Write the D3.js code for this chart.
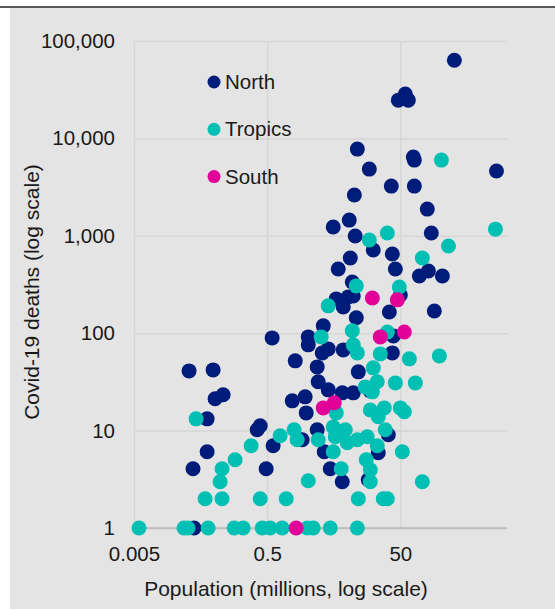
<!DOCTYPE html>
<html>
<head>
<meta charset="utf-8">
<script src="https://cdn.jsdelivr.net/npm/d3@7"></script>
<style>
  html, body { margin: 0; padding: 0; background: #ffffff; }
  svg { display: block; }
  text { font-family: "Liberation Sans", Arial, sans-serif; fill: #1a1a1a; }
</style>
</head>
<body>
<script>
// Population (millions) and Covid-19 deaths by region
const northPop = [324, 46.7, 59.4, 65.9, 11.3, 17.1, 78.4, 81.2, 1390, 36.6, 81.2, 10.2, 127, 8.55, 4.91, 10.5, 146, 19.6, 8.86, 37.9,
  5.84, 42.1, 96.5, 132, 214, 9.49, 5.45, 8.26, 6.95, 9.82, 50.0, 34.2, 162, 10.9, 3.48, 39.3, 2.07, 2.07, 0.594, 3.36,
  4.13, 6.95, 37.9, 1.32, 2.82, 11.7, 2.92, 4.13, 6.71, 9.82, 17.7, 1.86, 1.19, 1.93, 0.0336, 0.0771, 0.0826, 0.109, 0.0627, 0.354,
  0.393, 0.0627, 0.0385, 0.615, 0.483, 1.68, 2.82, 3.60, 33.0, 4.43, 23.3, 6.71, 16.5, 0.0399];
const northDeaths = [63500, 24700, 28500, 24700, 7770, 4840, 6430, 5990, 4620, 3240, 3240, 2620, 1880, 1450, 1230, 995, 1070, 715, 592, 651,
  456, 456, 387, 435, 387, 336, 225, 236, 186, 241, 247, 165, 169, 144, 119, 93.8, 91.6, 75.9, 89.5, 62.8,
  69.0, 67.4, 62.8, 52.0, 45.1, 40.1, 31.7, 26.2, 24.4, 24.4, 25.6, 22.2, 20.2, 15.2, 41.0, 42.0, 21.2, 23.3, 13.2, 10.2,
  11.2, 6.06, 4.06, 6.98, 4.06, 8.05, 10.2, 6.06, 9.06, 4.06, 5.92, 2.98, 3.13, 1];

const tropicsPop = [207, 1340, 31.9, 17.1, 264, 107, 10.9, 48.3, 4.13, 9.49, 31.9, 3.24, 9.82, 11.3, 25.0, 68.3, 193, 19.6, 22.5, 14.9,
  19.0, 42.1, 84.1, 5.45, 17.7, 28.7, 23.3, 50.0, 57.4, 4.91, 7.45, 5.27, 7.98, 11.3, 15.9, 22.5, 29.7, 2.92, 1.27, 1.41,
  0.783, 0.287, 0.165, 0.105, 0.0982, 0.0428, 0.0585, 0.105, 0.393, 0.966, 2.07, 4.91, 6.48, 15.4, 17.7, 17.7, 53.6, 107, 11.7, 27.7,
  31.9, 0.00594, 0.0282, 0.0324, 0.0649, 0.160, 0.218, 0.421, 0.555, 0.841, 2.0, 2.46, 4.43, 11.3];
const tropicsDeaths = [5990, 1170, 1070, 906, 786, 592, 306, 298, 191, 106, 103, 91.6, 75.9, 62.8, 61.3, 54.5, 58.5, 44.1, 31.7, 28.1,
  25.0, 30.9, 30.9, 15.2, 16.3, 17.1, 13.9, 17.1, 15.6, 10.9, 10.2, 8.64, 7.50, 8.05, 8.64, 6.98, 10.2, 8.05, 10.2, 8.05,
  8.85, 6.98, 5.02, 4.06, 2.98, 13.2, 2, 2, 2, 2, 3.06, 6.06, 4.06, 5.02, 3.96, 2.98, 6.06, 2.98, 2, 2,
  2, 1, 1, 1, 1, 1, 1, 1, 1, 1, 1, 1, 1, 1];

const southPop = [19.0, 45.1, 25.0, 57.4, 3.48, 5.09, 1.36];
const southDeaths = [230, 220, 91.6, 103, 17.1, 19.3, 1];

const regionNames = ["North", "Tropics", "South"];
const regionColors = ["#001c7a", "#00c0b4", "#e10098"];

const xTickValues = [0.005, 0.5, 50];
const xTickLabels = ["0.005", "0.5", "50"];
const yTickValues = [1, 10, 100, 1000, 10000, 100000];
const yTickLabels = ["1", "10", "100", "1,000", "10,000", "100,000"];

const W = 555, H = 609;
const margin = { left: 134, right: 48, top: 41, bottom: 81 };
const plotW = W - margin.left - margin.right;
const plotH = H - margin.top - margin.bottom;

const svg = d3.select("body").append("svg").attr("width", W).attr("height", H);

// panel background and top rule
svg.append("rect").attr("x", 10).attr("y", 8).attr("width", W - 10).attr("height", H - 8).attr("fill", "#e4e4e4");
svg.append("line").attr("x1", 0).attr("x2", W).attr("y1", 7).attr("y2", 7).attr("stroke", "#1f1f1f").attr("stroke-width", 1.5);

const x = d3.scaleLog().domain([0.005, 2000]).range([0, plotW]);
const y = d3.scaleLog().domain([1, 100000]).range([plotH, 0]);

const g = svg.append("g").attr("transform", `translate(${margin.left},${margin.top})`);

// horizontal gridlines + y labels
const yAxis = g.append("g")
  .call(d3.axisLeft(y).tickValues(yTickValues).tickSize(-plotW).tickPadding(19)
    .tickFormat((d, i) => yTickLabels[i]));
yAxis.select(".domain").remove();
yAxis.selectAll(".tick line").attr("stroke", "#d6d6d6").attr("stroke-width", 1.5);
yAxis.selectAll(".tick").filter(d => d === 1).select("line").attr("stroke", "#bdbdbd");
yAxis.selectAll("text").style("font-size", "20.5px").attr("fill", "#1a1a1a");

// vertical gridlines + x labels
const xAxis = g.append("g").attr("transform", `translate(0,${plotH})`)
  .call(d3.axisBottom(x).tickValues(xTickValues).tickSize(-plotH).tickPadding(18)
    .tickFormat((d, i) => xTickLabels[i]));
xAxis.select(".domain").remove();
xAxis.selectAll(".tick line").attr("stroke", "#d6d6d6").attr("stroke-width", 1.5);
xAxis.selectAll("text").style("font-size", "20.5px").attr("fill", "#1a1a1a");
// keep the baseline on top of the vertical gridlines
g.append("line").attr("x1", 0).attr("x2", plotW).attr("y1", y(1)).attr("y2", y(1))
  .attr("stroke", "#bdbdbd").attr("stroke-width", 1.5);

// points
const series = [
  { pop: northPop, deaths: northDeaths },
  { pop: tropicsPop, deaths: tropicsDeaths },
  { pop: southPop, deaths: southDeaths }
];
series.forEach((s, k) => {
  const pts = s.pop.map((p, i) => ({ p, d: s.deaths[i] }));
  g.append("g").selectAll("circle").data(pts).join("circle")
    .attr("cx", d => x(d.p))
    .attr("cy", d => y(d.d))
    .attr("r", 7.5)
    .attr("fill", regionColors[k]);
});

// legend
const legend = svg.append("g").attr("transform", "translate(214,82)");
regionNames.forEach((name, i) => {
  const row = legend.append("g").attr("transform", `translate(0,${i * 47.3})`);
  row.append("circle").attr("r", 6.5).attr("fill", regionColors[i]);
  row.append("text").attr("x", 11).attr("dy", "0.35em").style("font-size", "20.5px").text(name);
});

// axis titles
svg.append("text")
  .attr("transform", "translate(31,292) rotate(-90)")
  .attr("text-anchor", "middle").attr("dominant-baseline", "central")
  .style("font-size", "21px")
  .text("Covid-19 deaths (log scale)");
svg.append("text")
  .attr("x", 286).attr("y", 596)
  .attr("text-anchor", "middle")
  .style("font-size", "21px")
  .text("Population (millions, log scale)");
</script>
</body>
</html>
